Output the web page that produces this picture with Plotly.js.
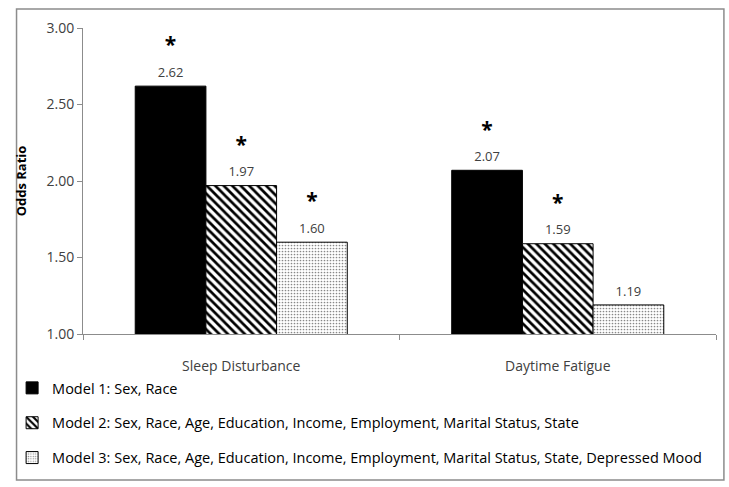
<!DOCTYPE html>
<html>
<head>
<meta charset="utf-8">
<script src="https://cdn.plot.ly/plotly-3.0.1.min.js"></script>
<style>html,body{margin:0;padding:0;background:#fff;}#chart{width:729px;height:487px;}</style>
</head>
<body>
<div id="chart"></div>
<script>
const categories = ["Sleep Disturbance", "Daytime Fatigue"];
const seriesNames = [
  "Model 1: Sex, Race",
  "Model 2: Sex, Race, Age, Education, Income, Employment, Marital Status, State",
  "Model 3: Sex, Race, Age, Education, Income, Employment, Marital Status, State, Depressed Mood"
];
const model1 = [2.62, 2.07];
const model2 = [1.97, 1.59];
const model3 = [1.60, 1.19];
const sig1 = [true, true];
const sig2 = [true, true];
const sig3 = [true, false];
const yTickVals = [1.0, 1.5, 2.0, 2.5, 3.0];

const FONT = "Open Sans, Liberation Sans, Arial, sans-serif";
const TXT = "#404040";

const patterns = [
  {color: "#000000", pattern: {shape: ""}},
  {color: "#ffffff", pattern: {shape: "\\", fgcolor: "#000000", bgcolor: "#ffffff", size: 6, solidity: 0.45}},
  {color: "#ffffff", pattern: {shape: ".", fgcolor: "#888888", bgcolor: "#ffffff", size: 3, solidity: 0.25}}
];
const data = [model1, model2, model3];
const sigs = [sig1, sig2, sig3];

const traces = [];
data.forEach((vals, k) => {
  traces.push({
    type: "bar",
    name: seriesNames[k],
    x: categories,
    y: vals,
    base: 0,
    offsetgroup: "m" + k,
    legendgroup: "g" + k,
    marker: {
      color: patterns[k].color,
      pattern: patterns[k].pattern,
      line: {color: "#000000", width: 1}
    },
    hoverinfo: "skip"
  });
});
// value labels
data.forEach((vals, k) => {
  traces.push({
    type: "scatter",
    mode: "markers+text",
    x: categories,
    y: vals,
    offsetgroup: "m" + k,
    showlegend: false,
    marker: {size: 8, color: "rgba(0,0,0,0)"},
    text: vals.map(v => v.toFixed(2)),
    textposition: "top center",
    textfont: {family: FONT, size: 13, color: TXT},
    cliponaxis: false,
    hoverinfo: "skip"
  });
});
// significance asterisks
data.forEach((vals, k) => {
  traces.push({
    type: "scatter",
    mode: "markers+text",
    x: categories,
    y: vals,
    offsetgroup: "m" + k,
    showlegend: false,
    marker: {size: 44, color: "rgba(0,0,0,0)"},
    text: sigs[k].map(s => s ? "<b>*</b>" : ""),
    textposition: "top center",
    textfont: {family: FONT, size: 21, color: "#000"},
    cliponaxis: false,
    hoverinfo: "skip"
  });
});

const layout = {
  width: 729,
  height: 487,
  margin: {l: 74, r: 13, t: 28, b: 153},
  paper_bgcolor: "#ffffff",
  plot_bgcolor: "#ffffff",
  barmode: "group",
  bargap: 0.33,
  bargroupgap: 0,
  scattermode: "group",
  scattergap: 0.33,
  showlegend: true,
  font: {family: FONT, size: 13, color: TXT},
  xaxis: {
    type: "category",
    automargin: false,
    showline: true,
    linecolor: "#8c8c8c",
    linewidth: 1,
    ticks: "outside",
    tickson: "boundaries",
    ticklen: 5,
    tickcolor: "#8c8c8c",
    ticklabelstandoff: 19,
    tickfont: {family: FONT, size: 14, color: TXT},
    showgrid: false,
    zeroline: false
  },
  yaxis: {
    range: [1, 3],
    automargin: false,
    tickvals: yTickVals,
    tickformat: ".2f",
    showline: true,
    linecolor: "#8c8c8c",
    linewidth: 1,
    ticks: "outside",
    ticklen: 5,
    tickcolor: "#8c8c8c",
    showgrid: false,
    zeroline: false,
    tickfont: {family: FONT, size: 14, color: TXT},
    title: {text: "<b>Odds Ratio</b>", font: {family: FONT, size: 13, color: "#000"}, standoff: 16}
  },
  legend: {
    orientation: "v",
    x: -0.112,
    xanchor: "left",
    y: -0.124,
    yanchor: "top",
    tracegroupgap: 13,
    itemwidth: 30,
    font: {family: FONT, size: 14.5, color: "#000"},
    bgcolor: "rgba(0,0,0,0)"
  },
  shapes: [{
    type: "rect",
    xref: "paper", yref: "paper",
    x0: -0.105, x1: 1.0125, y0: -0.477, y1: 1.062,
    line: {color: "#8c8c8c", width: 1.5},
    fillcolor: "rgba(0,0,0,0)",
    layer: "below"
  }]
};

Plotly.newPlot("chart", traces, layout, {staticPlot: true});
</script>
</body>
</html>
